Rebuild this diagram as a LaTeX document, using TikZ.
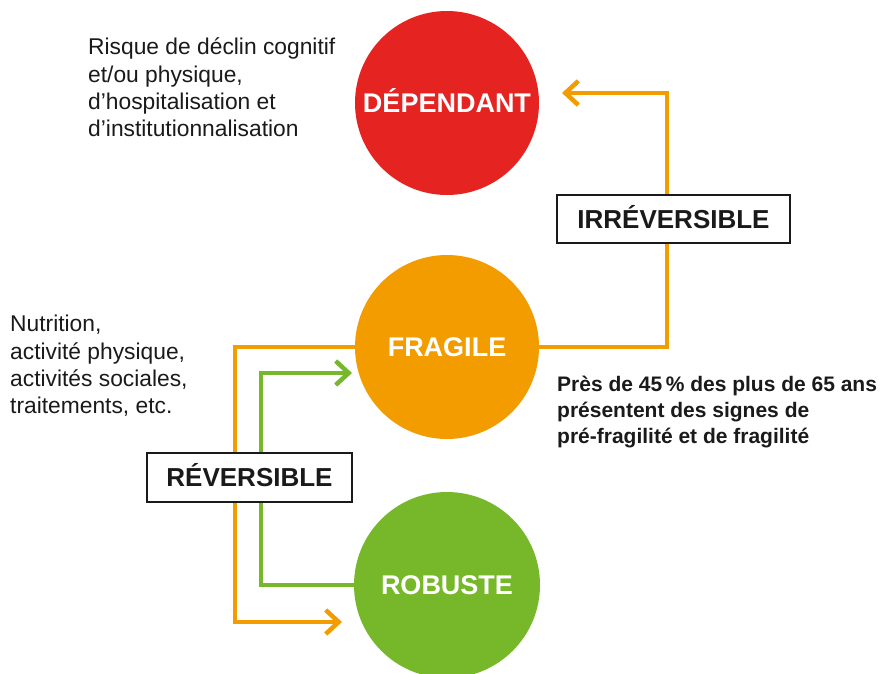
\documentclass[tikz,border=0pt]{standalone}
\usepackage{fontspec}
\setmainfont{Liberation Sans}
\usetikzlibrary{arrows.meta}
\definecolor{rouge}{HTML}{E52421}
\definecolor{orangefr}{HTML}{F39C00}
\definecolor{vertfr}{HTML}{76B82A}
\definecolor{encre}{HTML}{1A1A1A}

\begin{document}
\begin{tikzpicture}[x=1pt, y=-1pt,
    etat/.style={circle, minimum size=184pt, inner sep=0pt, text=white,
        text height=19.3pt, text depth=0pt, font=\fontsize{27}{32}\selectfont\bfseries},
    fleche/.style={line width=4.5pt, -{Straight Barb[length=13pt, width=24pt]}},
    cadre/.style={draw=encre, line width=1.5pt, fill=white, minimum width=205pt,
        minimum height=49pt, inner sep=0pt, text=encre, text height=18.6pt, text depth=0pt,
        font=\fontsize{26}{30}\selectfont\bfseries},
    texte/.style={anchor=north west, inner sep=0pt, align=left, text=encre,
        font=\fontsize{22.8}{27.3}\selectfont}]
    \useasboundingbox (0,0) rectangle (881,673);
    \node[etat, fill=rouge] (dependant) at (447,103) {DÉPENDANT};
    \node[etat, fill=orangefr] (fragile) at (447,347) {FRAGILE};
    \node[etat, fill=vertfr, minimum size=186pt] (robuste) at (447,585) {ROBUSTE};
    \node[texte] (risque) at (88,38) {Risque de déclin cognitif\\et/ou physique,\\d’hospitalisation et\\d’institutionnalisation};
    \node[texte] (leviers) at (10,315) {Nutrition,\\activité physique,\\activités sociales,\\traitements, etc.};
    \node[texte, font=\fontsize{21}{26}\selectfont\bfseries] (chiffre) at (557,376) {Près de 45\,\% des plus de 65 ans\\présentent des signes de\\pré-fragilité et de fragilité};
    \coordinate (versrobuste) at (342,622);
    \coordinate (versfragile) at (352,373);
    \coordinate (versdependant) at (562,93);
    \draw[fleche, orangefr] (fragile.west) -- ++(-120,0) |- (versrobuste);
    \draw[fleche, vertfr] (robuste.west) -- ++(-93,0) |- (versfragile);
    \draw[fleche, orangefr] (fragile.east) -- ++(128,0) |- (versdependant);
    \node[cadre] (reversible) at (249.5,477.5) {RÉVERSIBLE};
    \node[cadre, minimum width=233pt, minimum height=48pt] (irreversible) at (673.5,219) {IRRÉVERSIBLE};
\end{tikzpicture}
\end{document}
